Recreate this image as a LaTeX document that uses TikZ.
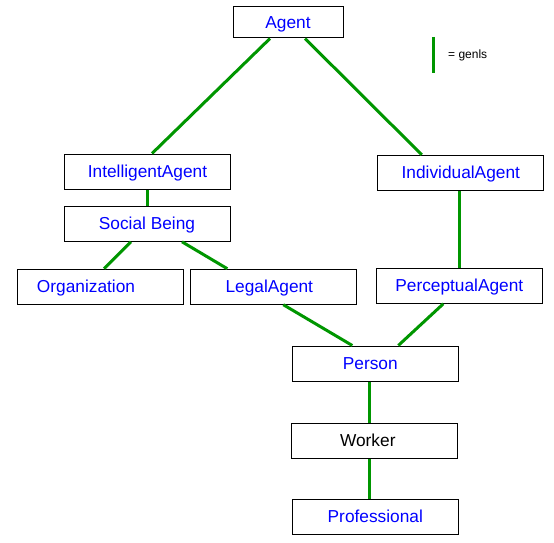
\documentclass[tikz,border=0pt]{standalone}
\usepackage{fontspec}
\setmainfont{Liberation Sans}
\definecolor{genlsgreen}{RGB}{0,150,0}
\definecolor{termblue}{RGB}{0,0,255}
\begin{document}
\begin{tikzpicture}[x=1pt,y=-1pt,
  box/.style={draw=black,line width=1pt,fill=white,minimum width=166pt,minimum height=35pt,inner sep=0pt,
    text height=12.3pt,text depth=0pt,
    font=\fontsize{17.3}{19}\selectfont,text=termblue},
  genls/.style={draw=genlsgreen,line width=3pt}]
\useasboundingbox (0,0) rectangle (554,543);
\node[box,minimum width=110pt,minimum height=31pt] (agent) at (288,22.5) {Agent};
\node[box] (intel) at (147.5,171.5) {IntelligentAgent};
\node[box] (social) at (147,223.8) {Social Being};
\node[box] (org) at (100,286.7) {\hspace*{-28pt}Organization};
\node[box] (legal) at (273.3,286.7) {\hspace*{-8pt}LegalAgent};
\node[box] (indiv) at (460.8,172.8) {IndividualAgent};
\node[box] (perc) at (459.3,285.8) {PerceptualAgent};
\node[box] (person) at (375.3,363.5) {\hspace*{-10pt}Person};
\node[box,text=black] (worker) at (374.3,440.7) {\hspace*{-13pt}Worker};
\node[box] (prof) at (375.3,516.7) {Professional};
% connectors
\draw[genls] ([xshift=-18pt]agent.south) -- ([xshift=4.5pt]intel.north);
\draw[genls] ([xshift=17pt]agent.south) -- ([xshift=-39pt]indiv.north);
\draw[genls] ([xshift=-0.5pt]intel.south) -- (social.north);
\draw[genls] ([xshift=-16pt]social.south) -- ([xshift=4pt]org.north);
\draw[genls] ([xshift=35pt]social.south) -- ([xshift=-46pt]legal.north);
\draw[genls] ([xshift=10pt]legal.south) -- ([xshift=-23pt]person.north);
\draw[genls] ([xshift=-16pt]perc.south) -- ([xshift=23pt]person.north);
\draw[genls] ([xshift=-1.5pt]indiv.south) -- (perc.north);
\draw[genls] ([xshift=-6pt]person.south) -- ([xshift=-5pt]worker.north);
\draw[genls] ([xshift=-5pt]worker.south) -- ([xshift=-6pt]prof.north);
% legend
\coordinate (legtop) at (433,37);
\coordinate (legbot) at (433,73);
\draw[genls] (legtop) -- (legbot);
\node[anchor=west,inner sep=0pt,font=\fontsize{12}{14}\selectfont] (legtext) at (448,55) {= genls};
\end{tikzpicture}
\end{document}
